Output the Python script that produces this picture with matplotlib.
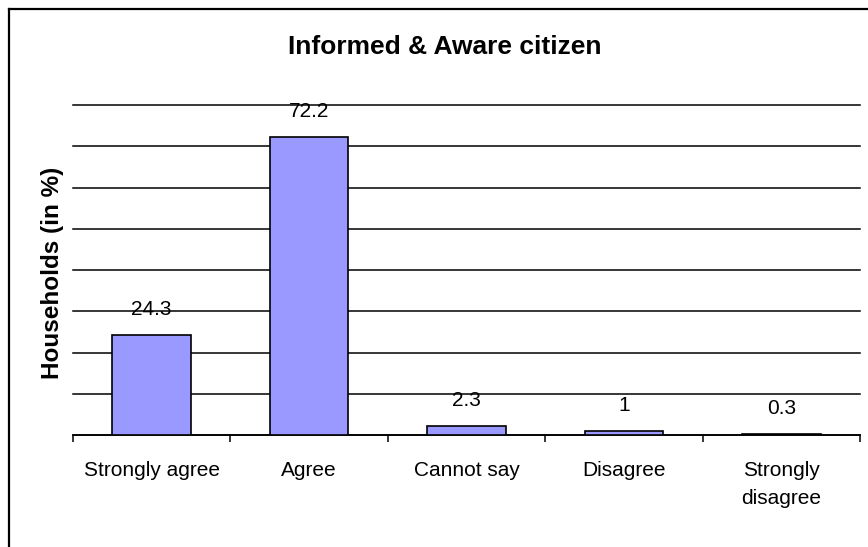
import matplotlib.pyplot as plt
from matplotlib.lines import Line2D

# survey responses, share of households in percent
categories = ['Strongly agree', 'Agree', 'Cannot say', 'Disagree', 'Strongly\ndisagree']
values = [24.3, 72.2, 2.3, 1, 0.3]
value_labels = ['24.3', '72.2', '2.3', '1', '0.3']

plt.rcParams['font.family'] = ['Liberation Sans', 'DejaVu Sans']

W, H = 868, 547
fig = plt.figure(figsize=(W / 100, H / 100), dpi=100)
ax = fig.add_axes([73 / W, 1 - 435 / H, (860 - 73) / W, (435 - 105) / H])

x = list(range(len(categories)))
ax.bar(x, values, width=0.5, color='#9999FF', edgecolor='black', linewidth=1.2, zorder=3)

for xi, v, lab in zip(x, values, value_labels):
    ax.annotate(lab, (xi, v), xytext=(0, 20), textcoords='offset pixels',
                ha='center', va='baseline', fontsize=15, zorder=4)

ax.set_xlim(-0.5, len(categories) - 0.5)
ax.set_ylim(0, 80)

# horizontal gridlines every 10 %
ax.set_yticks(range(0, 81, 10))
ax.yaxis.grid(True, color='black', linewidth=1.1, zorder=0)
for gl in ax.get_ygridlines():
    gl.set_clip_on(False)
ax.tick_params(axis='y', left=False, labelleft=False)

# ticks between categories, labels at category centres
ax.set_xticks([i - 0.5 for i in range(len(categories) + 1)])
ax.set_xticklabels([])
ax.tick_params(axis='x', which='major', direction='out', length=5, width=1.1, color='black')
ax.set_xticks(x, minor=True)
ax.set_xticklabels(categories, minor=True, fontsize=15, linespacing=1.55)
ax.tick_params(axis='x', which='minor', length=0, pad=19)

for side in ['top', 'right', 'left']:
    ax.spines[side].set_visible(False)
ax.spines['bottom'].set_linewidth(1.2)

fig.text(445 / W, 1 - 47 / H, 'Informed & Aware citizen', ha='center', va='center',
         fontsize=19, fontweight='bold')
fig.text(53 / W, 1 - 273 / H, 'Households (in %)', ha='center', va='center',
         rotation=90, fontsize=17.5, fontweight='bold')

# chart frame (left and top edges)
fig.add_artist(Line2D([9 / W, 9 / W], [0, 1 - 9 / H], color='black', linewidth=1.6,
                      transform=fig.transFigure))
fig.add_artist(Line2D([9 / W, 1], [1 - 9 / H, 1 - 9 / H], color='black', linewidth=1.6,
                      transform=fig.transFigure))

fig.savefig('out.png', dpi=100)
